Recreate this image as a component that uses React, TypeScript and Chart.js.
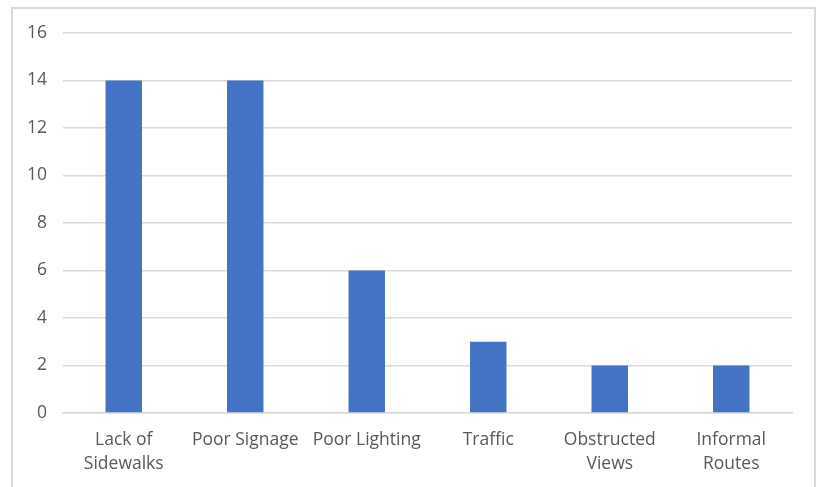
import React, { useEffect, useRef } from "react";
import { Chart, registerables } from "chart.js";

Chart.register(...registerables);

const categories: (string | string[])[] = [
  ["Lack of", "Sidewalks"],
  "Poor Signage",
  "Poor Lighting",
  "Traffic",
  ["Obstructed", "Views"],
  ["Informal", "Routes"],
];
const values = [14, 14, 6, 3, 2, 2];
const yMin = 0;
const yMax = 16;
const yStep = 2;

export default function App() {
  const ref = useRef<HTMLCanvasElement | null>(null);
  useEffect(() => {
    if (!ref.current) return;
    const font = { family: "'Open Sans', sans-serif", size: 17.5 };
    const chart = new Chart(ref.current, {
      type: "bar",
      data: {
        labels: categories,
        datasets: [
          {
            data: values,
            backgroundColor: "#4472C4",
            borderWidth: 0,
            barPercentage: 0.3,
            categoryPercentage: 1,
          },
        ],
      },
      options: {
        animation: false,
        responsive: false,
        devicePixelRatio: 1,
        layout: { padding: { left: 0, right: 25, top: 33, bottom: 0 } },
        plugins: { legend: { display: false }, tooltip: { enabled: false } },
        scales: {
          x: {
            grid: { display: false, drawTicks: false },
            border: { display: true, color: "#d9d9d9", width: 1.5 },
            ticks: {
              color: "#595959",
              font: { ...font, lineHeight: 1.37 },
              padding: 15,
              maxRotation: 0,
              autoSkip: false,
            },
            afterFit: (s: any) => {
              s.height = 74;
            },
          },
          y: {
            min: yMin,
            max: yMax,
            grid: { color: "#d9d9d9", lineWidth: 1.5, drawTicks: false },
            border: { display: false },
            ticks: {
              stepSize: yStep,
              color: "#595959",
              font,
              padding: 16,
            },
            afterFit: (s: any) => {
              s.width = 63;
            },
          },
        },
      },
    });
    return () => chart.destroy();
  }, []);
  return (
    <div style={{ position: "absolute", left: 0, top: 0, width: 817, height: 487, background: "#fff", overflow: "hidden" }}>
      <canvas ref={ref} width={817} height={487} style={{ position: "absolute", left: 0, top: 0 }} />
      <div
        style={{
          position: "absolute",
          left: 11,
          top: 7,
          width: 801,
          height: 490,
          borderTop: "2px solid #d9d9d9",
          borderLeft: "2px solid #d9d9d9",
          borderRight: "2px solid #d9d9d9",
          pointerEvents: "none",
        }}
      />
    </div>
  );
}
